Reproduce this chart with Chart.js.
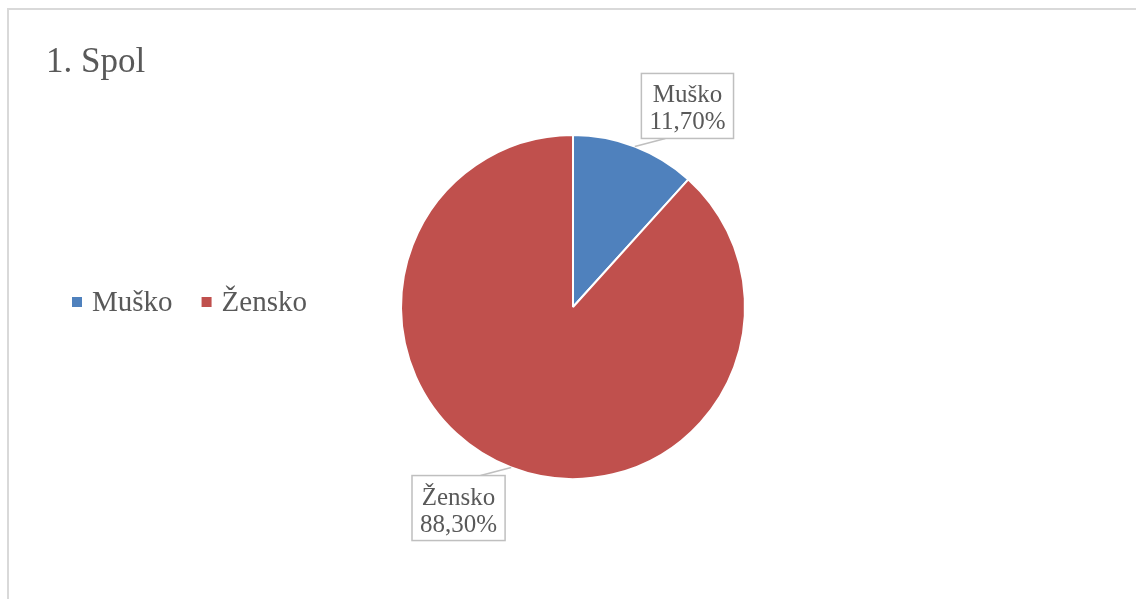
<!DOCTYPE html>
<html>
<head>
<meta charset="utf-8">
<script src="https://cdn.jsdelivr.net/npm/chart.js@4"></script>
<style>
  html, body { margin: 0; padding: 0; background: #fff; }
  #frame { position: absolute; left: 7px; top: 8px; width: 1200px; height: 700px;
           border-left: 2px solid #d9d9d9; border-top: 2px solid #d9d9d9; }
  #chart { position: absolute; left: 0; top: 0; }
</style>
</head>
<body>
<div id="frame"></div>
<canvas id="chart" width="1136" height="599"></canvas>
<script>
var chartTitle = "1. Spol";
var categories = ["Muško", "Žensko"];
var values = [11.7, 88.3];
var valueLabels = ["11,70%", "88,30%"];
var colors = ["#4f81bd", "#c0504d"];

var textColor = "#595959";
var serif = "'Liberation Serif', 'DejaVu Serif', serif";

// title, horizontal legend and callout labels, drawn on the canvas
var decorPlugin = {
  id: "decor",
  afterDatasetsDraw: function (chart) {
    var ctx = chart.ctx;
    ctx.save();

    // title
    ctx.fillStyle = textColor;
    ctx.font = "35px " + serif;
    ctx.textAlign = "left";
    ctx.textBaseline = "alphabetic";
    ctx.fillText(chartTitle, 46, 72);

    // legend
    ctx.font = "29px " + serif;
    var x = 72;
    categories.forEach(function (name, i) {
      ctx.fillStyle = colors[i];
      ctx.fillRect(x, 297, 10, 10);
      ctx.fillStyle = textColor;
      ctx.fillText(name, x + 20, 311);
      x += 20 + ctx.measureText(name).width + 29;
    });

    // data labels with leader lines
    var meta = chart.getDatasetMeta(0);
    ctx.font = "25px " + serif;
    meta.data.forEach(function (arc, i) {
      var p = arc.getProps(["x", "y", "startAngle", "endAngle", "outerRadius"], true);
      var mid = (p.startAngle + p.endAngle) / 2;
      var ang = mid + 0.15;
      var dist = p.outerRadius * 1.345;
      var cx = p.x + Math.cos(ang) * dist;
      var cy = p.y + Math.sin(ang) * dist;
      var lines = [categories[i], valueLabels[i]];
      var w = Math.max(ctx.measureText(lines[0]).width, ctx.measureText(lines[1]).width) + 16;
      var h = 65;
      var left = cx - w / 2, top = cy - h / 2;

      // leader
      var ax = p.x + Math.cos(mid) * p.outerRadius;
      var ay = p.y + Math.sin(mid) * p.outerRadius;
      var bx = cx - Math.sign(cx - p.x) * 22;
      var by = cy < p.y ? top + h : top;
      ctx.strokeStyle = "#bfbfbf";
      ctx.lineWidth = 1.5;
      ctx.beginPath();
      ctx.moveTo(ax, ay);
      ctx.lineTo(bx, by);
      ctx.stroke();

      ctx.fillStyle = "#ffffff";
      ctx.fillRect(left, top, w, h);
      ctx.strokeRect(left, top, w, h);

      ctx.fillStyle = textColor;
      ctx.textAlign = "center";
      ctx.textBaseline = "alphabetic";
      ctx.fillText(lines[0], cx, cy - 3.5);
      ctx.fillText(lines[1], cx, cy + 23.5);
    });
    ctx.restore();
  }
};

new Chart(document.getElementById("chart").getContext("2d"), {
  type: "pie",
  data: {
    labels: categories,
    datasets: [
      {
        data: values,
        backgroundColor: colors,
        borderColor: "#ffffff",
        borderWidth: 2,
      },
    ],
  },
  options: {
    responsive: false,
    animation: false,
    layout: {
      padding: { left: 400, right: 390, top: 134, bottom: 119 },
    },
    plugins: {
      legend: { display: false },
      title: { display: false },
      tooltip: { enabled: false },
    },
  },
  plugins: [decorPlugin],
});
</script>
</body>
</html>
